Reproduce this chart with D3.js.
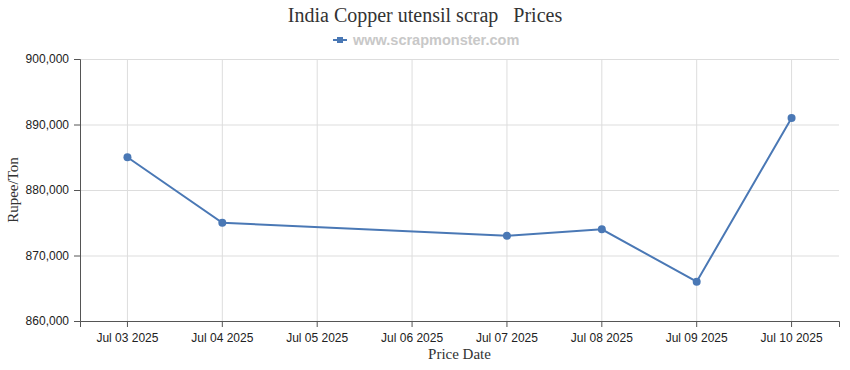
<!DOCTYPE html>
<html>
<head>
<meta charset="utf-8">
<script src="https://cdn.jsdelivr.net/npm/d3@7"></script>
<style>
  body { margin: 0; background: #fff; }
  svg { display: block; }
  .tick text { font-family: Tahoma, "Liberation Sans", sans-serif; font-size: 12px; fill: #222; }
  .grid line { stroke: #ddd; }
  .grid .domain { display: none; }
</style>
</head>
<body>
<svg width="850" height="370"></svg>
<script>
// chart data
var dates = ["Jul 03 2025", "Jul 04 2025", "Jul 05 2025", "Jul 06 2025",
             "Jul 07 2025", "Jul 08 2025", "Jul 09 2025", "Jul 10 2025"];
var priceDates = ["Jul 03 2025", "Jul 04 2025", "Jul 07 2025", "Jul 08 2025", "Jul 09 2025", "Jul 10 2025"];
var prices = [885000, 875000, 873000, 874000, 866000, 891000];
var yTicks = [860000, 870000, 880000, 890000, 900000];

var svg = d3.select("svg"),
  margin = { top: 59, right: 11, bottom: 49, left: 80 },
  width = 850 - margin.left - margin.right,
  height = 370 - margin.top - margin.bottom,
  color = "#4a78b5";

var x = d3.scaleBand().domain(dates).range([0, width]).padding(0);
var y = d3.scaleLinear().domain([860000, 900000]).range([height, 0]);

var g = svg.append("g").attr("transform", `translate(${margin.left},${margin.top})`);

// grid lines
g.append("g")
  .attr("class", "grid")
  .call(d3.axisLeft(y).tickValues(yTicks).tickSize(-width).tickFormat(""));
g.append("g")
  .attr("class", "grid")
  .attr("transform", `translate(0,${height})`)
  .call(d3.axisBottom(x).tickSize(-height).tickFormat(""));

// axes
var yAxis = g.append("g")
  .call(d3.axisLeft(y).tickValues(yTicks).tickSize(6).tickPadding(5).tickFormat(d3.format(",")));
var xAxis = g.append("g")
  .attr("transform", `translate(0,${height})`)
  .call(d3.axisBottom(x).tickSize(6).tickPadding(6));
[xAxis, yAxis].forEach(function(a) {
  a.selectAll(".domain, .tick line").attr("stroke", "#555");
});

// line + points
var data = priceDates.map(function(d, i) { return { date: d, price: prices[i] }; });
var line = d3.line()
  .x(function(d) { return x(d.date) + x.bandwidth() / 2; })
  .y(function(d) { return y(d.price); });

g.append("path")
  .datum(data)
  .attr("fill", "none")
  .attr("stroke", color)
  .attr("stroke-width", 2)
  .attr("d", line);

g.selectAll(".dot")
  .data(data)
  .enter()
  .append("circle")
  .attr("class", "dot")
  .attr("cx", function(d) { return x(d.date) + x.bandwidth() / 2; })
  .attr("cy", function(d) { return y(d.price); })
  .attr("r", 4)
  .attr("fill", color);

// title
svg.append("text")
  .attr("x", 425)
  .attr("y", 22)
  .attr("text-anchor", "middle")
  .style("font-family", "'Times New Roman', 'Liberation Serif', serif")
  .style("font-size", "20px")
  .style("fill", "#333")
  .style("white-space", "pre")
  .text("India Copper utensil scrap   Prices");

// legend
var leg = svg.append("g").attr("transform", "translate(333,40)");
leg.append("line").attr("x1", 0).attr("x2", 14).attr("y1", 0).attr("y2", 0)
  .attr("stroke", color).attr("stroke-width", 2);
leg.append("rect").attr("x", 4).attr("y", -3).attr("width", 6).attr("height", 6).attr("fill", color);
leg.append("text")
  .attr("x", 20)
  .attr("y", 5)
  .style("font-family", "Tahoma, 'Liberation Sans', sans-serif")
  .style("font-size", "14.5px")
  .style("font-weight", "bold")
  .style("fill", "#c8c8c8")
  .text("www.scrapmonster.com");

// axis titles
svg.append("text")
  .attr("transform", "translate(18,190) rotate(-90)")
  .attr("text-anchor", "middle")
  .style("font-family", "'Times New Roman', 'Liberation Serif', serif")
  .style("font-size", "15px")
  .style("fill", "#333")
  .text("Rupee/Ton");

svg.append("text")
  .attr("x", margin.left + width / 2)
  .attr("y", 359)
  .attr("text-anchor", "middle")
  .style("font-family", "'Times New Roman', 'Liberation Serif', serif")
  .style("font-size", "15px")
  .style("fill", "#333")
  .text("Price Date");
</script>
</body>
</html>
